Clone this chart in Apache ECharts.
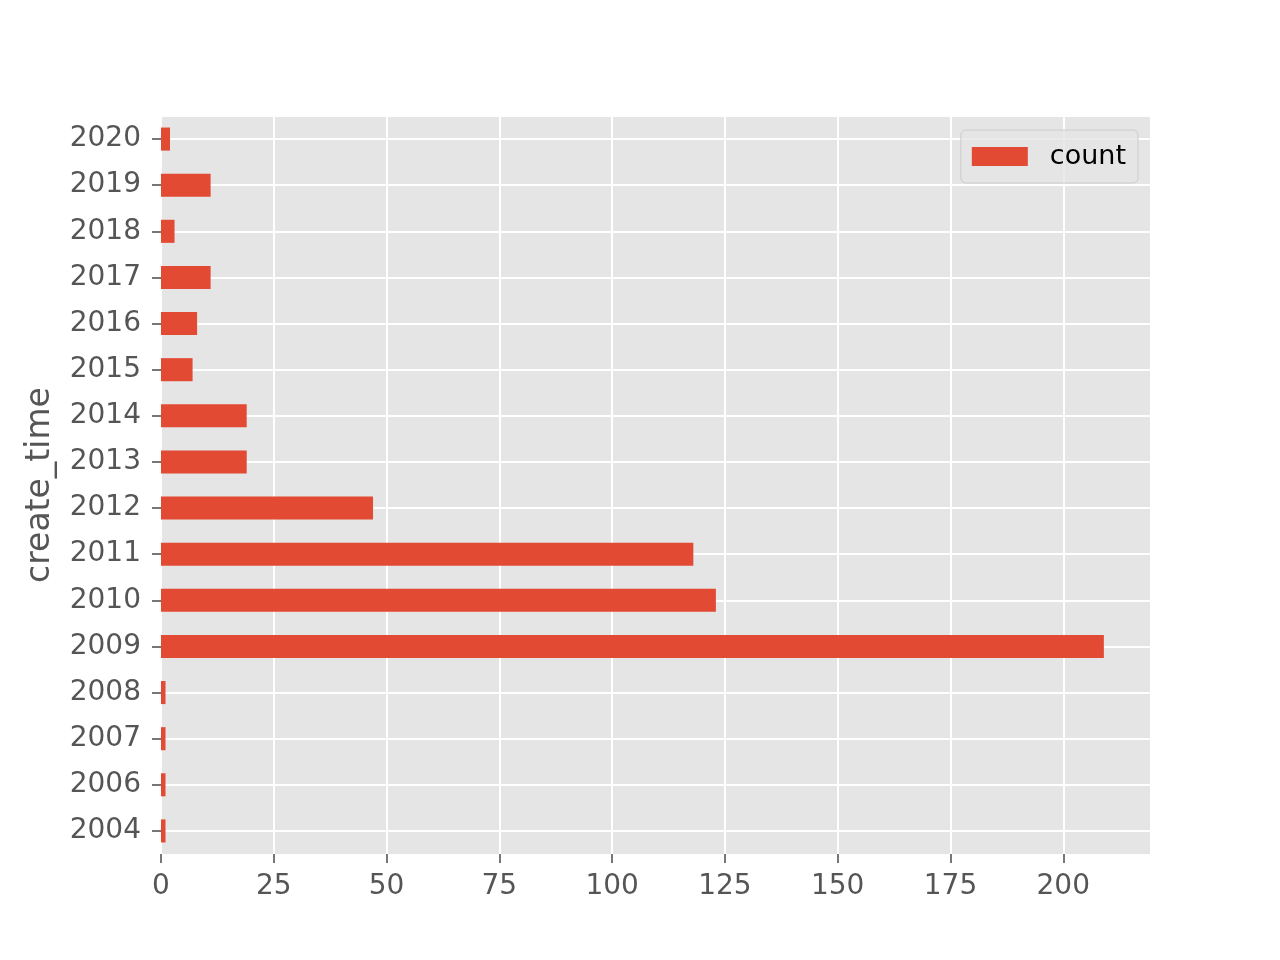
<!DOCTYPE html>
<html>
<head>
<meta charset="utf-8">
<script src="https://cdn.jsdelivr.net/npm/echarts@6/dist/echarts.min.js"></script>
<style>html,body{margin:0;padding:0;background:#fff;}#c{width:1280px;height:960px;}</style>
</head>
<body>
<div id="c"></div>
<script>
const categories = ['2004','2006','2007','2008','2009','2010','2011','2012','2013','2014','2015','2016','2017','2018','2019','2020'];
const counts = [1, 1, 1, 1, 209, 123, 118, 47, 19, 19, 7, 8, 11, 3, 11, 2];
const xTicks = [0, 25, 50, 75, 100, 125, 150, 175, 200];
const seriesName = 'count';
const yLabel = 'create_time';

const font = 'DejaVu Sans';
const halfCats = [];
for (let i = 0; i < categories.length * 2; i++) halfCats.push(String(i));

const chart = echarts.init(document.getElementById('c'), null, {renderer: 'canvas'});
chart.setOption({
  animation: false,
  backgroundColor: '#ffffff',
  grid: {left: 161, right: 129, top: 116, bottom: 106, show: true, backgroundColor: '#E5E5E5', borderWidth: 0},
  legend: {
    right: 142, top: 130,
    data: [seriesName],
    icon: 'rect',
    itemWidth: 56, itemHeight: 19,
    padding: [13, 12, 13, 11],
    backgroundColor: 'rgba(229,229,229,0.8)',
    borderColor: '#cccccc', borderWidth: 1, borderRadius: 5,
    textStyle: {fontFamily: font, fontSize: 27, color: '#000', lineHeight: 23, padding: [0, 0, 3, 17]}
  },
  xAxis: {
    type: 'value', min: 0, max: 219.45, interval: 25,
    axisLine: {show: false},
    axisTick: {show: true, length: 9, lineStyle: {color: '#555555', width: 1.6}},
    axisLabel: {
      fontFamily: font, fontSize: 28, color: '#555555', margin: 19, showMaxLabel: false,
      formatter: v => xTicks.indexOf(v) >= 0 ? String(v) : ''
    },
    splitLine: {show: true, lineStyle: {color: '#ffffff', width: 2}}
  },
  yAxis: [{
    type: 'category', data: categories,
    name: yLabel, nameLocation: 'middle', nameGap: 104, nameRotate: 90,
    nameTextStyle: {fontFamily: font, fontSize: 33, color: '#555555'},
    axisLine: {show: false},
    axisTick: {show: true, alignWithLabel: true, length: 9, lineStyle: {color: '#555555', width: 1.6}},
    axisLabel: {fontFamily: font, fontSize: 28, color: '#555555', margin: 20, padding: [4, 0, 0, 0]},
    splitLine: {show: false}
  }, {
    type: 'category', data: halfCats, position: 'left',
    axisLine: {show: false}, axisTick: {show: false}, axisLabel: {show: false},
    splitLine: {show: true, interval: (i) => i % 2 === 1, lineStyle: {color: '#ffffff', width: 2}}
  }],
  series: [{
    type: 'bar', name: seriesName, data: counts, yAxisIndex: 0,
    barCategoryGap: '50%',
    itemStyle: {color: '#E24A33'}
  }]
});
</script>
</body>
</html>
